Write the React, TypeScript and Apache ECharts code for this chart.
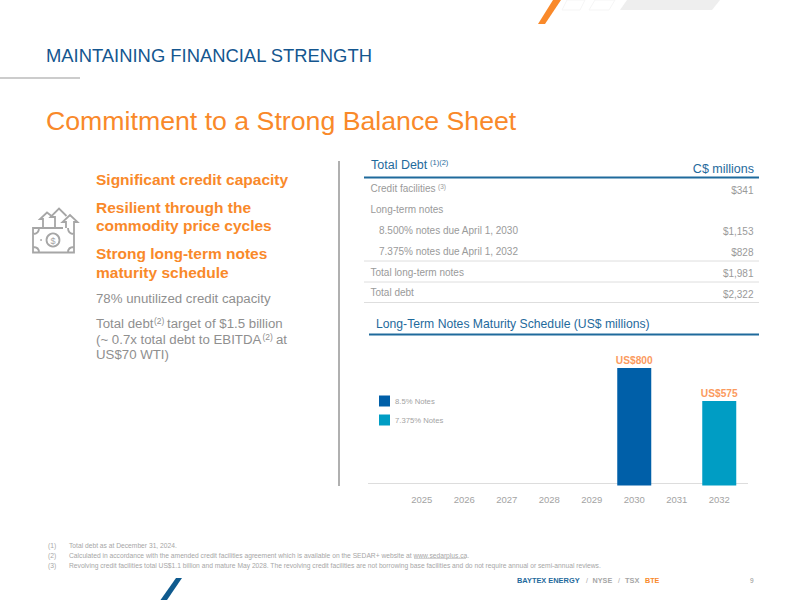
import { useEffect, useRef } from 'react'
import * as echarts from 'echarts'

const years = ['2025', '2026', '2027', '2028', '2029', '2030', '2031', '2032']
const notes85 = [null, null, null, null, null, 800, null, null]
const notes7375 = [null, null, null, null, null, null, null, 575]
const seriesNames = ['8.5% Notes', '7.375% Notes']

const debtLabels = [
  'Credit facilities',
  'Long-term notes',
  '8.500% notes due April 1, 2030',
  '7.375% notes due April 1, 2032',
  'Total long-term notes',
  'Total debt',
]
const debtValues = ['$341', '', '$1,153', '$828', '$1,981', '$2,322']

const headlines = [
  'Significant credit capacity',
  'Resilient through the',
  'commodity price cycles',
  'Strong long-term notes',
  'maturity schedule',
]

const footnotes = [
  'Total debt as at December 31, 2024.',
  'Calculated in accordance with the amended credit facilities agreement which is available on the SEDAR+ website at www.sedarplus.ca.',
  'Revolving credit facilities total US$1.1 billion and mature May 2028. The revolving credit facilities are not borrowing base facilities and do not require annual or semi-annual reviews.',
]

const FONT = '"Liberation Sans", Arial, sans-serif'
const BLUE = '#1f6a9c'
const ORANGE = '#f9892a'
const GREY = '#8f8f8f'
const TABLE_GREY = '#9a9a9a'
const FOOT_GREY = '#a6a6a6'

const ICON =
  'M63 228H33V252.5H74V233M33 234C37 234 39 232 39 228M68 228C68 232 70 234 74 234M33 247C37 247 39 249 39 252.5M74 247C70 247 68 249 68 252.5' +
  'M66 228V222H62.5L70 215L77.5 222H74V233M55 227V217H50.5L59 208.5L66.5 216M43 227V219H40L47 212.5L51.5 216'

echarts.graphic.registerShape('moneyIcon', echarts.graphic.extendPath(ICON, {}))

const txt = (
  text: string,
  x: number,
  y: number,
  fontSize: number,
  fill: string,
  extra: Record<string, unknown> = {},
) => ({
  type: 'text',
  x,
  y,
  silent: true,
  style: { text, fill, fontSize, fontFamily: FONT, textVerticalAlign: 'middle', ...extra },
})

const rule = (x1: number, x2: number, y: number, stroke: string, lineWidth: number) => ({
  type: 'line',
  silent: true,
  shape: { x1, y1: y, x2, y2: y },
  style: { stroke, lineWidth },
})

const poly = (points: number[][], style: Record<string, unknown>) => ({
  type: 'polygon',
  silent: true,
  shape: { points },
  style,
})

export default function App() {
  const containerRef = useRef<HTMLDivElement>(null)

  useEffect(() => {
    if (!containerRef.current) return
    document.body.style.margin = '0'

    const chart = echarts.init(containerRef.current, null, { renderer: 'svg' })

    const labelY = [188.5, 209, 230, 251, 272, 292.5]
    const valueY = [190, 209, 231.5, 252, 273.5, 294]
    const labelX = [370.5, 370.5, 379, 379, 370.5, 370.5]
    const headlineY = [179, 207, 225.5, 253.5, 272]
    const footnoteY = [545.5, 555, 565]

    const barLabel = {
      show: true,
      position: 'top' as const,
      distance: 3,
      color: '#fb9a5e',
      fontFamily: FONT,
      fontSize: 10.2,
      fontWeight: 'bold' as const,
      formatter: (p: { value: number }) => `US$${p.value}`,
    }

    chart.setOption({
      animation: false,
      grid: { left: 400.5, right: 59.5, top: 368, bottom: 114.5 },
      xAxis: {
        type: 'category',
        data: years,
        axisLine: { show: false },
        axisTick: { show: false },
        axisLabel: { color: '#a3a3a3', fontFamily: FONT, fontSize: 9.5, margin: 9 },
      },
      yAxis: { type: 'value', min: 0, max: 800, show: false },
      legend: {
        orient: 'vertical',
        left: 379,
        top: 395.5,
        padding: 0,
        itemWidth: 11,
        itemHeight: 11,
        itemGap: 8,
        icon: 'rect',
        selectedMode: false,
        data: seriesNames,
        textStyle: { color: '#a3a3a3', fontFamily: FONT, fontSize: 7.7 },
      },
      series: [
        {
          name: seriesNames[0],
          type: 'bar',
          stack: 'notes',
          barWidth: 34,
          data: notes85,
          itemStyle: { color: '#005fa8' },
          label: barLabel,
        },
        {
          name: seriesNames[1],
          type: 'bar',
          stack: 'notes',
          barWidth: 34,
          data: notes7375,
          itemStyle: { color: '#009dc4' },
          label: barLabel,
        },
      ],
      graphic: [
        // corner decoration
        poly([[553, 0], [561, 0], [545, 24], [538, 24]], { fill: ORANGE }),
        poly([[567, 0], [585, 0], [580, 10], [562, 10]], { fill: '#fff', stroke: '#f5f5f5' }),
        poly([[595, 0], [615, 0], [609, 10], [589, 10]], { fill: '#fff', stroke: '#f5f5f5' }),
        poly([[627, 0], [720, 0], [712, 10], [620, 10]], { fill: '#eeeeee' }),
        poly([[176, 578], [182, 578], [167, 600], [160.5, 600]], { fill: '#0f5a8e' }),

        // headings
        txt('MAINTAINING FINANCIAL STRENGTH', 46, 55.5, 18.4, '#14568f'),
        rule(0, 80, 78, '#cccccc', 2),
        txt('Commitment to a Strong Balance Sheet', 46, 121, 26.7, ORANGE),

        // left column
        {
          type: 'moneyIcon',
          silent: true,
          style: { fill: 'none', stroke: '#a6a6a6', lineWidth: 1.8 },
        },
        {
          type: 'circle',
          silent: true,
          shape: { cx: 53, cy: 240, r: 6.5 },
          style: { fill: '#fff', stroke: '#a6a6a6', lineWidth: 1.8 },
        },
        {
          type: 'circle',
          silent: true,
          shape: { cx: 41, cy: 240, r: 0.9 },
          style: { fill: '#a6a6a6' },
        },
        txt('$', 53, 240.5, 9, '#a6a6a6', { textAlign: 'center' }),
        ...headlines.map((h, i) =>
          txt(h, 96, headlineY[i], 15.5, ORANGE, { fontWeight: 'bold' }),
        ),
        txt('78% unutilized credit capacity', 96, 298, 13.25, GREY),
        txt('Total debt', 96, 323, 13.25, GREY),
        txt('(2)', 154, 320.5, 8.5, GREY),
        txt('target of $1.5 billion', 167, 323, 13.25, GREY),
        txt('(~ 0.7x total debt to EBITDA', 96, 339, 13.25, GREY),
        txt('(2)', 262.5, 336.5, 8.5, GREY),
        txt('at', 276, 339, 13.25, GREY),
        txt('US$70 WTI)', 96, 354, 13.25, GREY),
        {
          type: 'line',
          silent: true,
          shape: { x1: 339, y1: 161, x2: 339, y2: 486 },
          style: { stroke: '#b0b0b0', lineWidth: 2 },
        },

        // debt table
        txt('Total Debt', 371, 164.5, 12.5, BLUE),
        txt('(1)(2)', 430, 162, 7.5, BLUE),
        txt('C$ millions', 754, 168.5, 12.5, BLUE, { textAlign: 'right' }),
        rule(364, 759, 177.5, BLUE, 2),
        ...debtLabels.map((l, i) => txt(l, labelX[i], labelY[i], 10, TABLE_GREY)),
        txt('(3)', 438, 186, 6.5, TABLE_GREY),
        ...debtValues.map((v, i) =>
          txt(v, 753.5, valueY[i], 10, TABLE_GREY, { textAlign: 'right' }),
        ),
        rule(364, 759, 261, '#dedede', 1),
        rule(364, 759, 282, '#dedede', 1),
        rule(364, 759, 302.5, '#dedede', 1),

        txt('Long-Term Notes Maturity Schedule (US$ millions)', 376, 324, 12.2, BLUE),
        rule(369, 759, 334.5, BLUE, 2),
        rule(368, 748, 483.5, '#dddddd', 1),

        // footnotes
        ...footnotes.map((f, i) => txt(`(${i + 1})`, 48, footnoteY[i], 6.7, FOOT_GREY)),
        ...footnotes.map((f, i) => txt(f, 69, footnoteY[i], 6.7, FOOT_GREY)),
        rule(414, 466, 558.5, FOOT_GREY, 0.5),

        // footer
        txt('BAYTEX ENERGY', 517, 580.5, 7.4, BLUE, { fontWeight: 'bold' }),
        txt('/', 586, 580.5, 7, FOOT_GREY),
        txt('NYSE', 592.6, 580.5, 7.2, FOOT_GREY, { fontWeight: 'bold' }),
        txt('/', 618, 580.5, 7, FOOT_GREY),
        txt('TSX', 625, 580.5, 7.4, FOOT_GREY, { fontWeight: 'bold' }),
        txt('BTE', 645, 580.5, 7.2, ORANGE, { fontWeight: 'bold' }),
        txt('9', 750, 580, 6.5, GREY),
      ],
    })

    return () => {
      chart.dispose()
    }
  }, [])

  return <div ref={containerRef} style={{ width: 800, height: 600 }} />
}
